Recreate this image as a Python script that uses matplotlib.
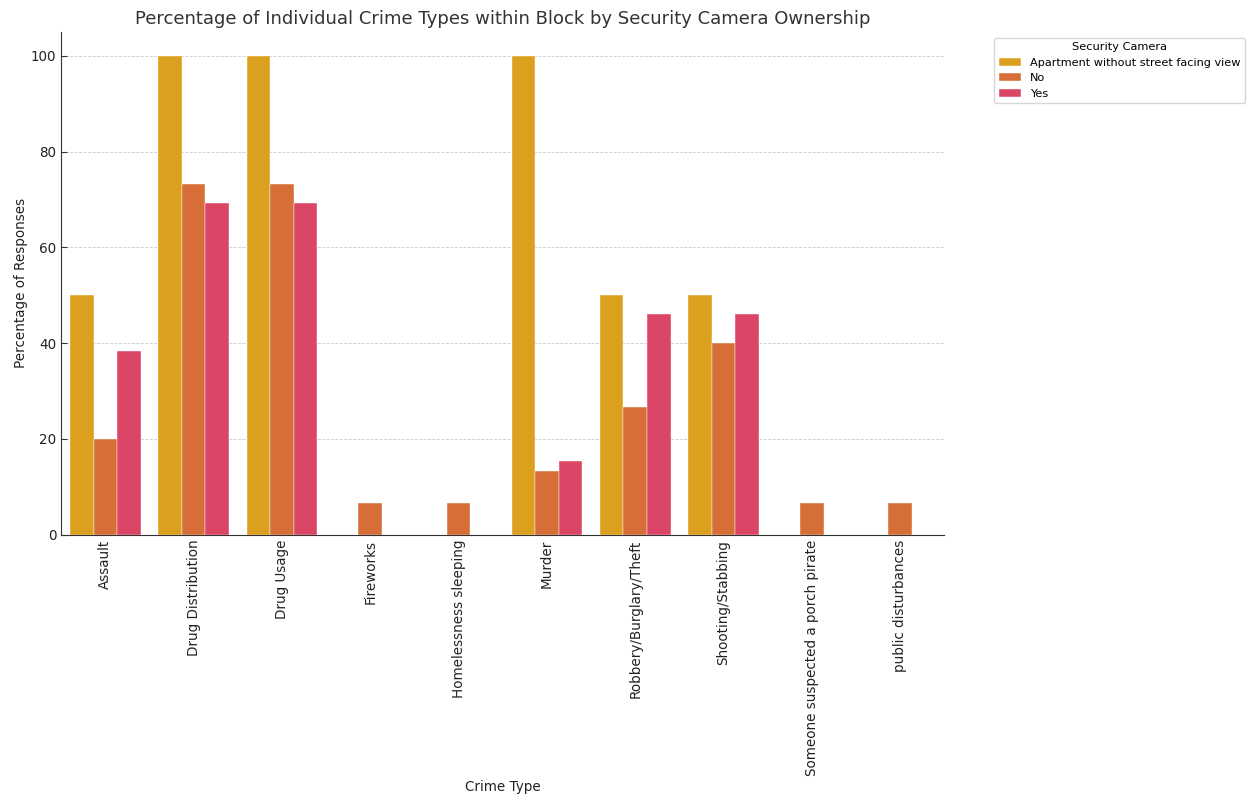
import numpy as np
import matplotlib
matplotlib.use("Agg")
import matplotlib.pyplot as plt

# data
crime_types = ["Assault", "Drug Distribution", "Drug Usage", "Fireworks",
               "Homelessness sleeping", "Murder", "Robbery/Burglary/Theft",
               "Shooting/Stabbing", "Someone suspected a porch pirate",
               "public disturbances"]
apartment = [50, 100, 100, 0, 0, 100, 50, 50, 0, 0]
no_camera = [20, 73.33, 73.33, 6.67, 6.67, 13.33, 26.67, 40, 6.67, 6.67]
yes_camera = [38.46, 69.23, 69.23, 0, 0, 15.38, 46.15, 46.15, 0, 0]

series_names = ["Apartment without street facing view", "No", "Yes"]
colors = ["#DCA01F", "#D76E38", "#DC4666"]

fig = plt.figure(figsize=(12.49, 7.97), dpi=100)
ax = fig.add_axes([0.049, 0.329, 0.707, 0.631])

x = np.arange(len(crime_types))
w = 0.8 / 3
for i, (vals, name) in enumerate(zip([apartment, no_camera, yes_camera], series_names)):
    ax.bar(x + (i - 1) * w, vals, width=w, color=colors[i], label=name,
           edgecolor="white", linewidth=0.3, zorder=2)

ax.set_xlim(-0.5, len(crime_types) - 0.5)
ax.set_ylim(0, 105)
ax.set_yticks([0, 20, 40, 60, 80, 100])
ax.set_xticks(x)
ax.set_xticklabels(crime_types, rotation=90, fontsize=9.75, color="#222222")
ax.tick_params(axis="both", direction="in", length=4, color="#333333")
ax.tick_params(axis="y", labelsize=9.75, labelcolor="#222222")
ax.grid(axis="y", linestyle="--", color="#cccccc", linewidth=0.6, zorder=0)
ax.spines["top"].set_visible(False)
ax.spines["right"].set_visible(False)
ax.spines["left"].set_color("#333333")
ax.spines["bottom"].set_color("#333333")

ax.set_title("Percentage of Individual Crime Types within Block by Security Camera Ownership",
             fontsize=13, color="#333333")
ax.set_xlabel("Crime Type", fontsize=9.75, color="#222222", labelpad=3)
ax.set_ylabel("Percentage of Responses", fontsize=9.75, color="#222222", labelpad=2)

leg = ax.legend(title="Security Camera", loc="upper left", bbox_to_anchor=(1.05, 1.0),
                fontsize=8.1, title_fontsize=8.2)

fig.savefig("out.png", dpi=100)
